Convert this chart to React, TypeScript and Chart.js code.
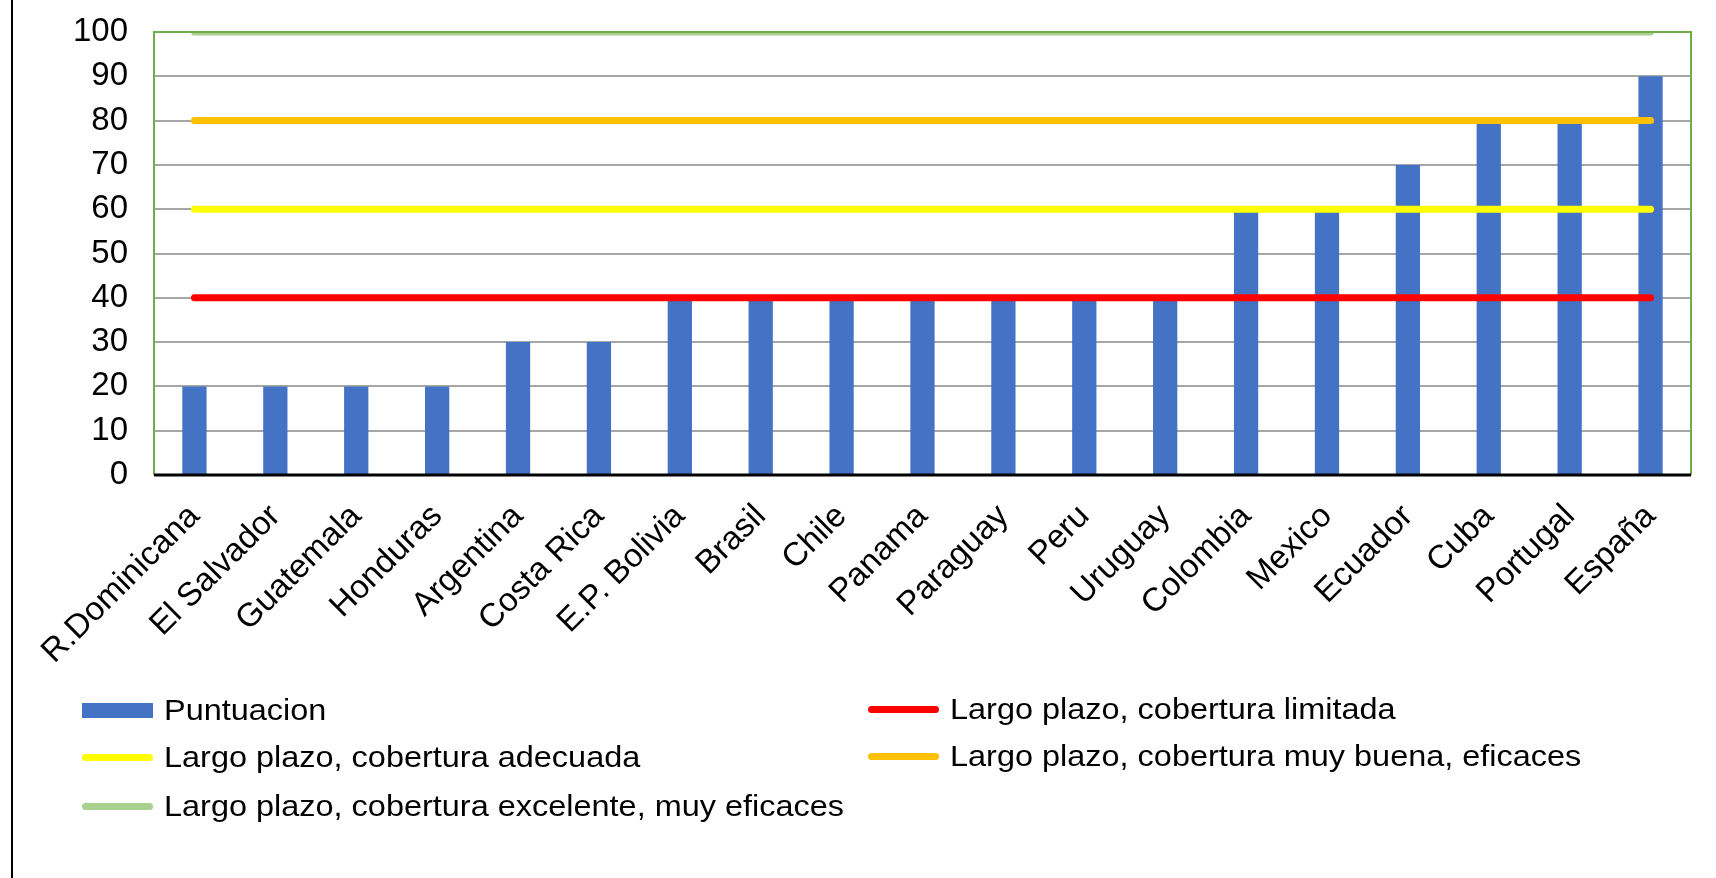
import React, { useEffect, useRef } from "react";
import { Chart, registerables } from "chart.js";

Chart.register(...registerables);

const categories = [
  "R.Dominicana", "El Salvador", "Guatemala", "Honduras", "Argentina", "Costa Rica",
  "E.P. Bolivia", "Brasil", "Chile", "Panama", "Paraguay", "Peru", "Uruguay",
  "Colombia", "Mexico", "Ecuador", "Cuba", "Portugal", "España",
];
const puntuacion = [20, 20, 20, 20, 30, 30, 40, 40, 40, 40, 40, 40, 40, 60, 60, 70, 80, 80, 90];
const limitada = [40, 40, 40, 40, 40, 40, 40, 40, 40, 40, 40, 40, 40, 40, 40, 40, 40, 40, 40];
const adecuada = [60, 60, 60, 60, 60, 60, 60, 60, 60, 60, 60, 60, 60, 60, 60, 60, 60, 60, 60];
const muyBuena = [80, 80, 80, 80, 80, 80, 80, 80, 80, 80, 80, 80, 80, 80, 80, 80, 80, 80, 80];
const excelente = [100, 100, 100, 100, 100, 100, 100, 100, 100, 100, 100, 100, 100, 100, 100, 100, 100, 100, 100];

const seriesNames = [
  "Puntuacion",
  "Largo plazo, cobertura limitada",
  "Largo plazo, cobertura adecuada",
  "Largo plazo, cobertura muy buena, eficaces",
  "Largo plazo, cobertura excelente, muy eficaces",
];
const seriesColors = ["#4472C4", "#FF0000", "#FFFF00", "#FFC000", "#A9D18E"];

const FONT = "'Liberation Sans', Arial, sans-serif";

const framePlugin = {
  id: "frame",
  afterDatasetsDraw(chart: any) {
    const { ctx, chartArea: a } = chart;
    ctx.save();
    ctx.strokeStyle = "#70AD47";
    ctx.lineWidth = 2;
    ctx.beginPath();
    ctx.moveTo(a.left, a.bottom);
    ctx.lineTo(a.left, a.top);
    ctx.lineTo(a.right, a.top);
    ctx.lineTo(a.right, a.bottom);
    ctx.stroke();
    ctx.strokeStyle = "#000000";
    ctx.lineWidth = 3;
    ctx.beginPath();
    ctx.moveTo(a.left, a.bottom);
    ctx.lineTo(a.right, a.bottom);
    ctx.stroke();
    ctx.restore();
  },
};

function lineDs(label: string, data: number[], color: string, clip?: any) {
  const ds: any = {
    type: "line",
    label,
    data,
    borderColor: color,
    backgroundColor: color,
    borderWidth: 7,
    borderCapStyle: "round",
    pointRadius: 0,
    fill: false,
    order: 0,
  };
  if (clip !== undefined) ds.clip = clip;
  return ds;
}

export default function App() {
  const ref = useRef<HTMLCanvasElement | null>(null);

  useEffect(() => {
    document.body.style.margin = "0";
    const canvas = ref.current!;
    const chart = new Chart(canvas, {
      type: "bar",
      data: {
        labels: categories,
        datasets: [
          lineDs(seriesNames[1], limitada, seriesColors[1]),
          lineDs(seriesNames[2], adecuada, seriesColors[2]),
          lineDs(seriesNames[3], muyBuena, seriesColors[3]),
          lineDs(seriesNames[4], excelente, seriesColors[4], { top: 0, left: 0, right: 0, bottom: 0 }),
          {
            type: "bar",
            label: seriesNames[0],
            data: puntuacion,
            backgroundColor: seriesColors[0],
            barPercentage: 0.3,
            categoryPercentage: 1,
            order: 10,
          } as any,
        ],
      },
      options: {
        responsive: false,
        devicePixelRatio: 1,
        animation: false,
        layout: { padding: { left: 0, right: 25, top: 32, bottom: 0 } },
        plugins: {
          legend: { display: false },
          tooltip: { enabled: false },
          title: { display: false },
        },
        scales: {
          x: {
            grid: { display: false, drawTicks: false },
            border: { display: false },
            ticks: {
              color: "#000000",
              font: { family: FONT, size: 33 },
              minRotation: 45,
              maxRotation: 45,
              padding: 22,
              autoSkip: false,
            },
            afterFit(s: any) {
              s.height = 403;
            },
          },
          y: {
            min: 0,
            max: 100,
            grid: { color: "#A6A6A6", lineWidth: 2, drawTicks: false },
            border: { display: false },
            ticks: {
              stepSize: 10,
              color: "#000000",
              font: { family: FONT, size: 33 },
              padding: 26,
            },
            afterFit(s: any) {
              s.width = 154;
              s.paddingTop = 0;
              s.paddingBottom = 0;
            },
          },
        },
      },
      plugins: [framePlugin],
    });
    return () => chart.destroy();
  }, []);

  const legendItems = [
    { idx: 0, x: 82, y: 710, bar: true },
    { idx: 1, x: 868, y: 709, bar: false },
    { idx: 2, x: 82, y: 757, bar: false },
    { idx: 3, x: 868, y: 756, bar: false },
    { idx: 4, x: 82, y: 806, bar: false },
  ];

  return (
    <div style={{ position: "fixed", left: 0, top: 0, width: 1716, height: 878, background: "#ffffff", overflow: "hidden" }}>
      <canvas ref={ref} width={1716} height={878} style={{ position: "absolute", left: 0, top: 0, width: 1716, height: 878 }} />
      <div style={{ position: "absolute", left: 11, top: 0, width: 2, height: 878, background: "#000000" }} />
      {legendItems.map((it) => (
        <div key={it.idx} style={{ position: "absolute", left: it.x, top: it.y - 20, height: 40, display: "flex", alignItems: "center" }}>
          <div
            style={{
              width: 71,
              height: it.bar ? 15 : 7,
              background: seriesColors[it.idx],
              borderRadius: it.bar ? 0 : 4,
              marginRight: 11,
            }}
          />
          <span
            style={{
              fontFamily: FONT,
              fontSize: 29.5,
              color: "#000000",
              whiteSpace: "nowrap",
              display: "inline-block",
              transform: "scaleX(1.1)",
              transformOrigin: "left center",
            }}
          >
            {seriesNames[it.idx]}
          </span>
        </div>
      ))}
    </div>
  );
}
